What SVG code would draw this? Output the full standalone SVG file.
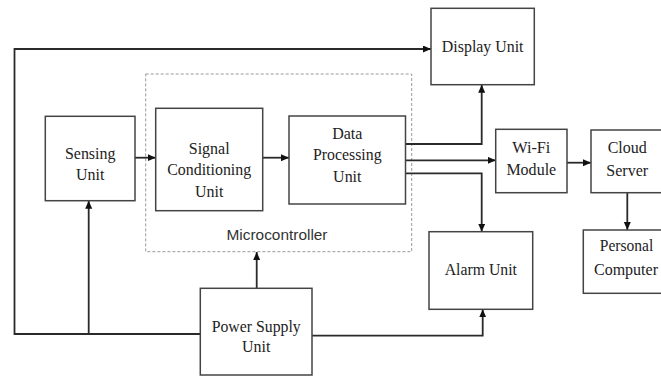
<svg xmlns="http://www.w3.org/2000/svg" width="661" height="376" viewBox="0 0 661 376">
<defs>
<marker id="arr" markerUnits="userSpaceOnUse" markerWidth="9" markerHeight="8" refX="8" refY="3.5" orient="auto">
<path d="M0,0 L8,3.5 L0,7 z" fill="#111"/>
</marker>
<style>
.box{fill:#fff;stroke:#444;stroke-width:1.5}
.t{font-family:"Liberation Serif","Times New Roman",serif;font-size:17.5px;fill:#222;text-anchor:middle}
.c{fill:none;stroke:#2a2a2a;stroke-width:1.8}
.a{marker-end:url(#arr)}
</style>
</defs>
<rect width="661" height="376" fill="#fff"/>
<g id="microcontroller">
<rect x="145.7" y="74" width="266" height="177.7" fill="none" stroke="#999" stroke-width="1" stroke-dasharray="3,2"/>
<text x="277" y="240" style="font-family:'Liberation Sans',Arial,sans-serif;font-size:15.5px;fill:#333;text-anchor:middle" textLength="101" lengthAdjust="spacingAndGlyphs">Microcontroller</text>
</g>
<g id="connectors">
<path class="c a" d="M200.3,334 H14.5 V49 H431"/>
<path class="c a" d="M88.7,334 V200.7"/>
<path class="c a" d="M256.7,288.3 V252"/>
<path class="c a" d="M312,335.7 H482.7 V309.3"/>
<path class="c a" d="M135,157.7 H155.7"/>
<path class="c a" d="M262.7,157.7 H289"/>
<path class="c a" d="M405.5,144 H481.7 V84.7"/>
<path class="c a" d="M405.5,160.3 H495.7"/>
<path class="c a" d="M405.5,173.3 H481.7 V231.7"/>
<path class="c a" d="M567,162.7 H591"/>
<path class="c a" d="M627.3,193 V230"/>
</g>
<g id="sensing">
<rect class="box" x="45.3" y="116.3" width="89.7" height="84.4"/>
<text class="t" x="90.2" y="159.3" textLength="50.5" lengthAdjust="spacingAndGlyphs">Sensing</text>
<text class="t" x="90.2" y="180" textLength="28.4" lengthAdjust="spacingAndGlyphs">Unit</text>
</g>
<g id="signal">
<rect class="box" x="155.7" y="108.3" width="107" height="102.4"/>
<text class="t" x="209.2" y="153.5" textLength="40.9" lengthAdjust="spacingAndGlyphs">Signal</text>
<text class="t" x="209.2" y="175" textLength="84" lengthAdjust="spacingAndGlyphs">Conditioning</text>
<text class="t" x="209.2" y="196.5" textLength="28.4" lengthAdjust="spacingAndGlyphs">Unit</text>
</g>
<g id="dataproc">
<rect class="box" x="289" y="116" width="116.5" height="88"/>
<text class="t" x="347.3" y="139.3" textLength="30.2" lengthAdjust="spacingAndGlyphs">Data</text>
<text class="t" x="347.3" y="160.3" textLength="68.5" lengthAdjust="spacingAndGlyphs">Processing</text>
<text class="t" x="347.3" y="181.5" textLength="28.4" lengthAdjust="spacingAndGlyphs">Unit</text>
</g>
<g id="display">
<rect class="box" x="431" y="8.3" width="103.3" height="76.4"/>
<text class="t" x="482.7" y="52.3" textLength="81.7" lengthAdjust="spacingAndGlyphs">Display Unit</text>
</g>
<g id="wifi">
<rect class="box" x="495.7" y="129.3" width="71.3" height="63.4"/>
<text class="t" x="531.3" y="152.7" textLength="38.2" lengthAdjust="spacingAndGlyphs">Wi-Fi</text>
<text class="t" x="531.3" y="175" textLength="49.8" lengthAdjust="spacingAndGlyphs">Module</text>
</g>
<g id="cloud">
<rect class="box" x="591" y="130" width="72" height="62.7"/>
<text class="t" x="627.2" y="153.3" textLength="39.1" lengthAdjust="spacingAndGlyphs">Cloud</text>
<text class="t" x="627.2" y="175.7" textLength="41.8" lengthAdjust="spacingAndGlyphs">Server</text>
</g>
<g id="pc">
<rect class="box" x="583.3" y="230" width="80" height="63.3"/>
<text class="t" x="626.5" y="250.7" textLength="53.5" lengthAdjust="spacingAndGlyphs">Personal</text>
<text class="t" x="626" y="275" style="font-size:16px">Computer</text>
</g>
<g id="alarm">
<rect class="box" x="429" y="231.7" width="103.7" height="77.6"/>
<text class="t" x="480.8" y="275" textLength="72.3" lengthAdjust="spacingAndGlyphs">Alarm Unit</text>
</g>
<g id="power">
<rect class="box" x="200.3" y="288.3" width="111.7" height="86.7"/>
<text class="t" x="256.2" y="331.7" textLength="89" lengthAdjust="spacingAndGlyphs">Power Supply</text>
<text class="t" x="256.2" y="352.3" textLength="28.4" lengthAdjust="spacingAndGlyphs">Unit</text>
</g>
</svg>
